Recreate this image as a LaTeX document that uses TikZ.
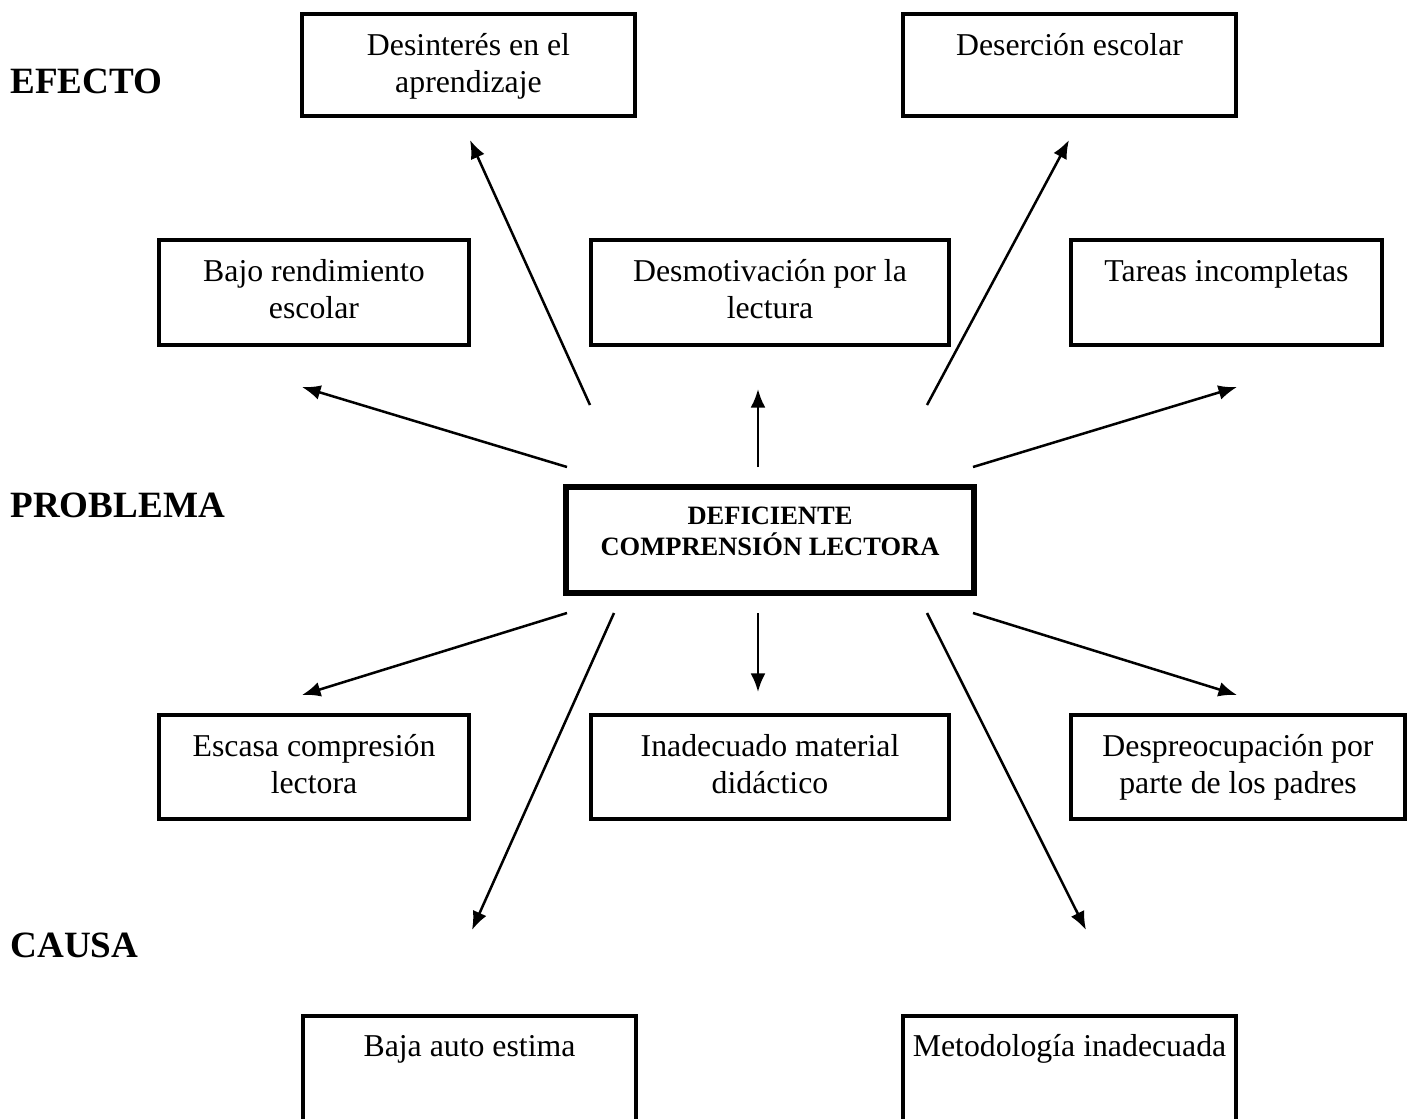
\documentclass[tikz,border=0pt]{standalone}
\usepackage{fontspec}
\setmainfont{Liberation Serif}
\usetikzlibrary{arrows.meta}
\usetikzlibrary{positioning}
\usetikzlibrary{fit}
\tikzset{
	caja/.style={draw,line width=1.5pt,inner sep=0pt}
}
\tikzset{
	texto/.style={inner sep=0pt,align=center,font=\fontsize{12}{14}\selectfont}
}
\tikzset{
	flecha/.style={line width=0.95pt,-{Latex[length=7pt,width=5.6pt]}}
}

\begin{document}
\begin{tikzpicture}[x=0.3774pt,y=-0.3774pt]
		\clip (0,0) rectangle (1416,1119);
		%\draw (0,0) rectangle (1416,1119);
		\node[inner sep=0pt,anchor=base west,font=\fontsize{14}{16}\selectfont\bfseries] (efecto) at (10,93) {EFECTO};
		\node[inner sep=0pt,anchor=base west,font=\fontsize{14}{16}\selectfont\bfseries] (problema) at (10,517) {PROBLEMA};
		\node[inner sep=0pt,anchor=base west,font=\fontsize{14}{16}\selectfont\bfseries] (causa) at (10,957) {CAUSA};
		\node[caja,fit={(302,14) (635,116)}] (desinteres) {};
		\node[caja,fit={(903,14) (1236,116)}] (desercion) {};
		\node[caja,fit={(159,240) (469,345)}] (bajo) {};
		\node[caja,fit={(591,240) (949,345)}] (desmotivacion) {};
		\node[caja,fit={(1071,240) (1382,345)}] (tareas) {};
		\node[caja,line width=2.3pt,fit={(566,487) (974,593)}] (deficiente) {};
		\node[caja,fit={(159,715) (469,819)}] (escasa) {};
		\node[caja,fit={(591,715) (949,819)}] (inadecuado) {};
		\node[caja,fit={(1071,715) (1405,819)}] (despreocupacion) {};
		\node[caja,fit={(303,1016) (636,1140)}] (baja) {};
		\node[caja,fit={(903,1016) (1236,1140)}] (metodologia) {};
		\node[texto,below=8pt of desinteres.north] (desinteres-t) {Desinterés en el\\aprendizaje};
		\node[texto,below=8pt of desercion.north] (desercion-t) {Deserción escolar};
		\node[texto,below=8pt of bajo.north] (bajo-t) {Bajo rendimiento\\escolar};
		\node[texto,below=8pt of desmotivacion.north] (desmotivacion-t) {Desmotivación por la\\lectura};
		\node[texto,below=8pt of tareas.north] (tareas-t) {Tareas incompletas};
		\node[texto,below=8.4pt of deficiente.north,font=\fontsize{10}{11.7}\selectfont\bfseries] (deficiente-t) {DEFICIENTE\\COMPRENSIÓN LECTORA};
		\node[texto,below=8pt of escasa.north] (escasa-t) {Escasa compresión\\lectora};
		\node[texto,below=8pt of inadecuado.north] (inadecuado-t) {Inadecuado material\\didáctico};
		\node[texto,below=8pt of despreocupacion.north] (despreocupacion-t) {Despreocupación por\\parte de los padres};
		\node[texto,below=8pt of baja.north] (baja-t) {Baja auto estima};
		\node[texto,below=7.6pt of metodologia.north] (metodologia-t) {Metodología inadecuada};
		% flechas
		\coordinate (o-bajo) at (567,467);
		\coordinate (d-bajo) at (302,387);
		\coordinate (o-desinteres) at (590,405);
		\coordinate (d-desinteres) at (470,140);
		\coordinate (o-desmotivacion) at (758,467);
		\coordinate (d-desmotivacion) at (758,389);
		\coordinate (o-desercion) at (927,405);
		\coordinate (d-desercion) at (1069,140);
		\coordinate (o-tareas) at (973,467);
		\coordinate (d-tareas) at (1237,387);
		\coordinate (o-escasa) at (567,613);
		\coordinate (d-escasa) at (302,695);
		\coordinate (o-inadecuado) at (758,613);
		\coordinate (d-inadecuado) at (758,692);
		\coordinate (o-despreocupacion) at (973,613);
		\coordinate (d-despreocupacion) at (1237,695);
		\coordinate (o-baja) at (614,613);
		\coordinate (d-baja) at (472,930);
		\coordinate (o-metodologia) at (927,613);
		\coordinate (d-metodologia) at (1086,930);
		\foreach \n in {bajo,desinteres,desmotivacion,desercion,tareas,escasa,inadecuado,despreocupacion,baja,metodologia}{
			\draw[flecha] (o-\n) -- (d-\n);
		}
	\end{tikzpicture}
\end{document}
